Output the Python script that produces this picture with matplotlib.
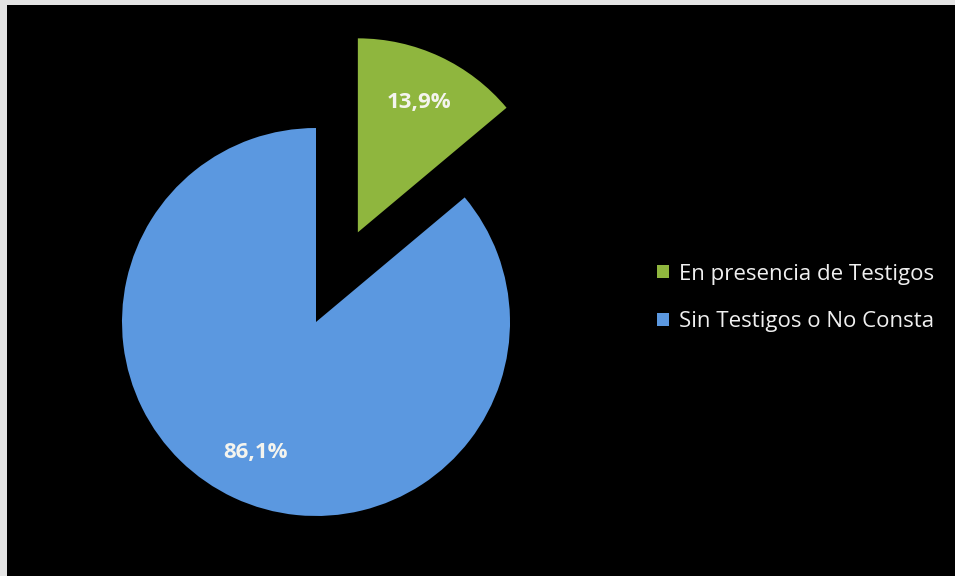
import matplotlib.pyplot as plt

labels = ['En presencia de Testigos', 'Sin Testigos o No Consta']
values = [13.9, 86.1]
colors = ['#8fb63e', '#5b98e0']
explode = [0.51, 0]

fig = plt.figure(figsize=(9.55, 5.76), dpi=100, facecolor='#e4e4e4')
ax = fig.add_axes([7/955, 0, 948/955, 571/576])

wedges, texts, autotexts = ax.pie(values, colors=colors, explode=explode,
                                  startangle=90, counterclock=False,
                                  autopct=lambda p: ('%.1f%%' % p).replace('.', ','),
                                  pctdistance=0.74, radius=1,
                                  textprops={'color': '#f4f4ee', 'fontsize': 16,
                                             'fontweight': 'bold', 'family': 'Open Sans'})
for w in wedges:
    w.set_edgecolor('none')

# pie() turns the frame off, which hides the background patch
ax.set_frame_on(True)
ax.set_facecolor('black')
for s in ax.spines.values():
    s.set_visible(False)

# pixel mapping: center at (316, 322), radius 194 px
ax.set_xlim((7 - 316) / 194, (955 - 316) / 194)
ax.set_ylim(-(576 - 322) / 194, (322 - 5) / 194)
ax.set_aspect('auto')
ax.set_xticks([])
ax.set_yticks([])

leg = ax.legend(wedges, labels, loc='center left', bbox_to_anchor=(0.665, 0.487),
                frameon=False, labelspacing=1.2, handlelength=0.5, handleheight=0.5,
                handletextpad=0.45,
                prop={'family': 'Open Sans', 'size': 16})
for t in leg.get_texts():
    t.set_color('#f0f0f0')

fig.savefig('out.png', dpi=100, facecolor=fig.get_facecolor())
